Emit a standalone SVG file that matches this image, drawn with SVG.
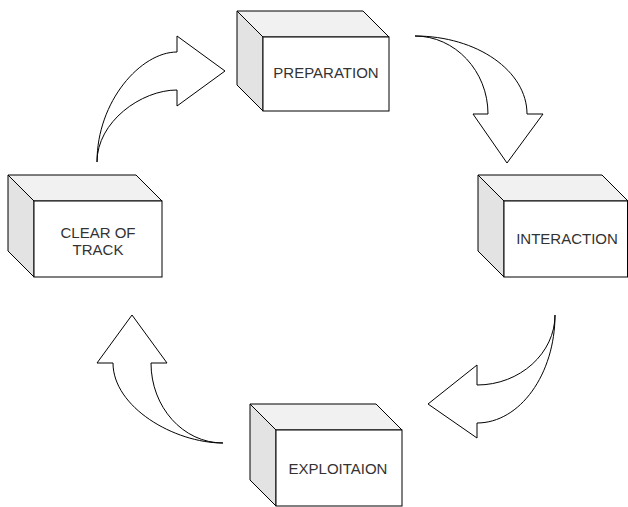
<svg xmlns="http://www.w3.org/2000/svg" width="628" height="507" viewBox="0 0 628 507">
<style>
.top{fill:#f1f1f1;stroke:#000;stroke-width:1}
.side{fill:#e3e3e3;stroke:#000;stroke-width:1}
.front{fill:#fff;stroke:#000;stroke-width:1}
.lbl{font-family:"Liberation Sans",Arial,sans-serif;font-size:15px;fill:#333;text-anchor:middle}
.arr{fill:#fff;stroke:#000;stroke-width:1;stroke-linejoin:miter}
</style>
<rect width="628" height="507" fill="#fff"/>
<g id="connectors">
<path class="arr" d="M415,36 C477,36 527,71 527,114 L543,114 L507,163 L473,114 L488,114 C488,71 455,36 415,36 Z"/>
<path class="arr" d="M555,315 C555,353 520,385 477,385 L477,365 L428,404 L477,438 L477,423 C520,423 555,374 555,315 Z"/>
<path class="arr" d="M223,443 C174,443 113,407 113,363 L97,363 L132,315 L167,363 L151,363 C151,407 183,443 223,443 Z"/>
<path class="arr" d="M97,162 C97,101 141,52 177,52 L177,36 L225,71 L177,106 L177,90 C141,90 97,122 97,162 Z"/>
</g>
<g id="preparation">
<polygon class="top" points="237,11 363,11 389,37 263,37"/>
<polygon class="side" points="237,11 263,37 263,111 237,85"/>
<rect class="front" x="263" y="37" width="126" height="74"/>
<text class="lbl" x="326" y="77.5">PREPARATION</text>
</g>
<g id="interaction">
<polygon class="top" points="478,175 602,175 628,201 504,201"/>
<polygon class="side" points="478,175 504,201 504,277 478,251"/>
<rect class="front" x="504" y="201" width="123.5" height="76"/>
<text class="lbl" x="567" y="243.5">INTERACTION</text>
</g>
<g id="clear-of-track">
<polygon class="top" points="8,175 136,175 162,201 34,201"/>
<polygon class="side" points="8,175 34,201 34,277 8,251"/>
<rect class="front" x="34" y="201" width="128" height="76"/>
<text class="lbl" x="98" y="237.5">CLEAR OF</text>
<text class="lbl" x="98" y="254.5">TRACK</text>
</g>
<g id="exploitaion">
<polygon class="top" points="250,404 376,404 402,430 276,430"/>
<polygon class="side" points="250,404 276,430 276,506 250,480"/>
<rect class="front" x="276" y="430" width="126" height="76"/>
<text class="lbl" x="338" y="473.5">EXPLOITAION</text>
</g>
</svg>
